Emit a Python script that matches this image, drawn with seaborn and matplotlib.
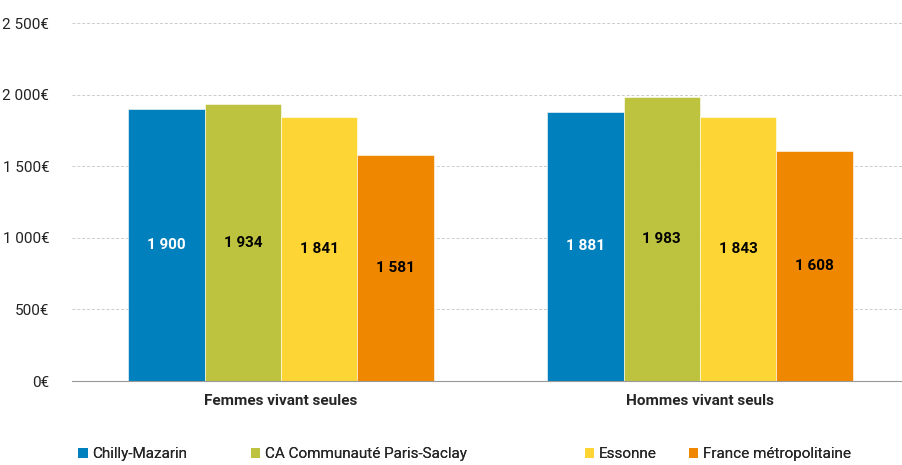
import pandas as pd
import matplotlib.pyplot as plt
import seaborn as sns
from matplotlib.patches import Patch
from matplotlib.ticker import FuncFormatter

groups = ["Femmes vivant seules", "Hommes vivant seuls"]
territories = ["Chilly-Mazarin", "CA Communauté Paris-Saclay", "Essonne", "France métropolitaine"]
femmes = [1900, 1934, 1841, 1581]
hommes = [1881, 1983, 1843, 1608]
colors = ["#0080BC", "#BDC23F", "#FDD535", "#F08700"]

df = pd.DataFrame({
    "groupe": [groups[0]] * 4 + [groups[1]] * 4,
    "territoire": territories * 2,
    "revenu": femmes + hommes,
})

sns.set_style("white")
plt.rcParams["font.family"] = ["Roboto", "DejaVu Sans"]

fig = plt.figure(figsize=(9.03, 4.65), dpi=100)
ax = fig.add_axes([0.0792, 0.1806, 0.928, 0.7699])

sns.barplot(data=df, x="groupe", y="revenu", hue="territoire", hue_order=territories,
            palette=colors, width=0.73, saturation=1, ax=ax, legend=False, errorbar=None,
            edgecolor="white", linewidth=0.4)

ax.set_ylim(0, 2500)
ax.set_xlim(-0.5, 1.5)
ax.set_yticks([0, 500, 1000, 1500, 2000, 2500])
ax.yaxis.set_major_formatter(FuncFormatter(lambda v, p: f"{int(v):,}€".replace(",", " ")))
ax.grid(axis="y", color="#cccccc", linestyle=(0, (3, 2)), linewidth=0.7)
ax.set_axisbelow(True)
for s in ["top", "right", "left"]:
    ax.spines[s].set_visible(False)
ax.spines["bottom"].set_color("#999999")
ax.tick_params(axis="y", length=0, labelsize=11, pad=16, labelcolor="#222222")
ax.tick_params(axis="x", which="major", length=0, labelsize=11, pad=9)
ax.set_xticks([-0.5, 0.5, 1.5], minor=True)
ax.tick_params(axis="x", which="minor", length=5, color="#999999")
for t in ax.get_xticklabels():
    t.set_fontweight("bold")
ax.set_xlabel("")
ax.set_ylabel("")

for i, cont in enumerate(ax.containers):
    ax.bar_label(cont, labels=[f"{int(v):,}".replace(",", " ") for v in cont.datavalues],
                 label_type="center", fontsize=11, fontweight="bold",
                 color="white" if i == 0 else "black")

# legend items placed one by one, like the reference
leg_x = [0.080, 0.271, 0.641, 0.756]
for name, c, lx in zip(territories, colors, leg_x):
    lg = fig.legend([Patch(facecolor=c, edgecolor="none")], [name], loc="lower left",
                    bbox_to_anchor=(lx, -0.005), frameon=False, fontsize=11,
                    handlelength=0.6, handleheight=0.6, handletextpad=0.3,
                    borderpad=0.2, borderaxespad=0.2)
    fig.add_artist(lg)

fig.savefig("out.png", dpi=100)
